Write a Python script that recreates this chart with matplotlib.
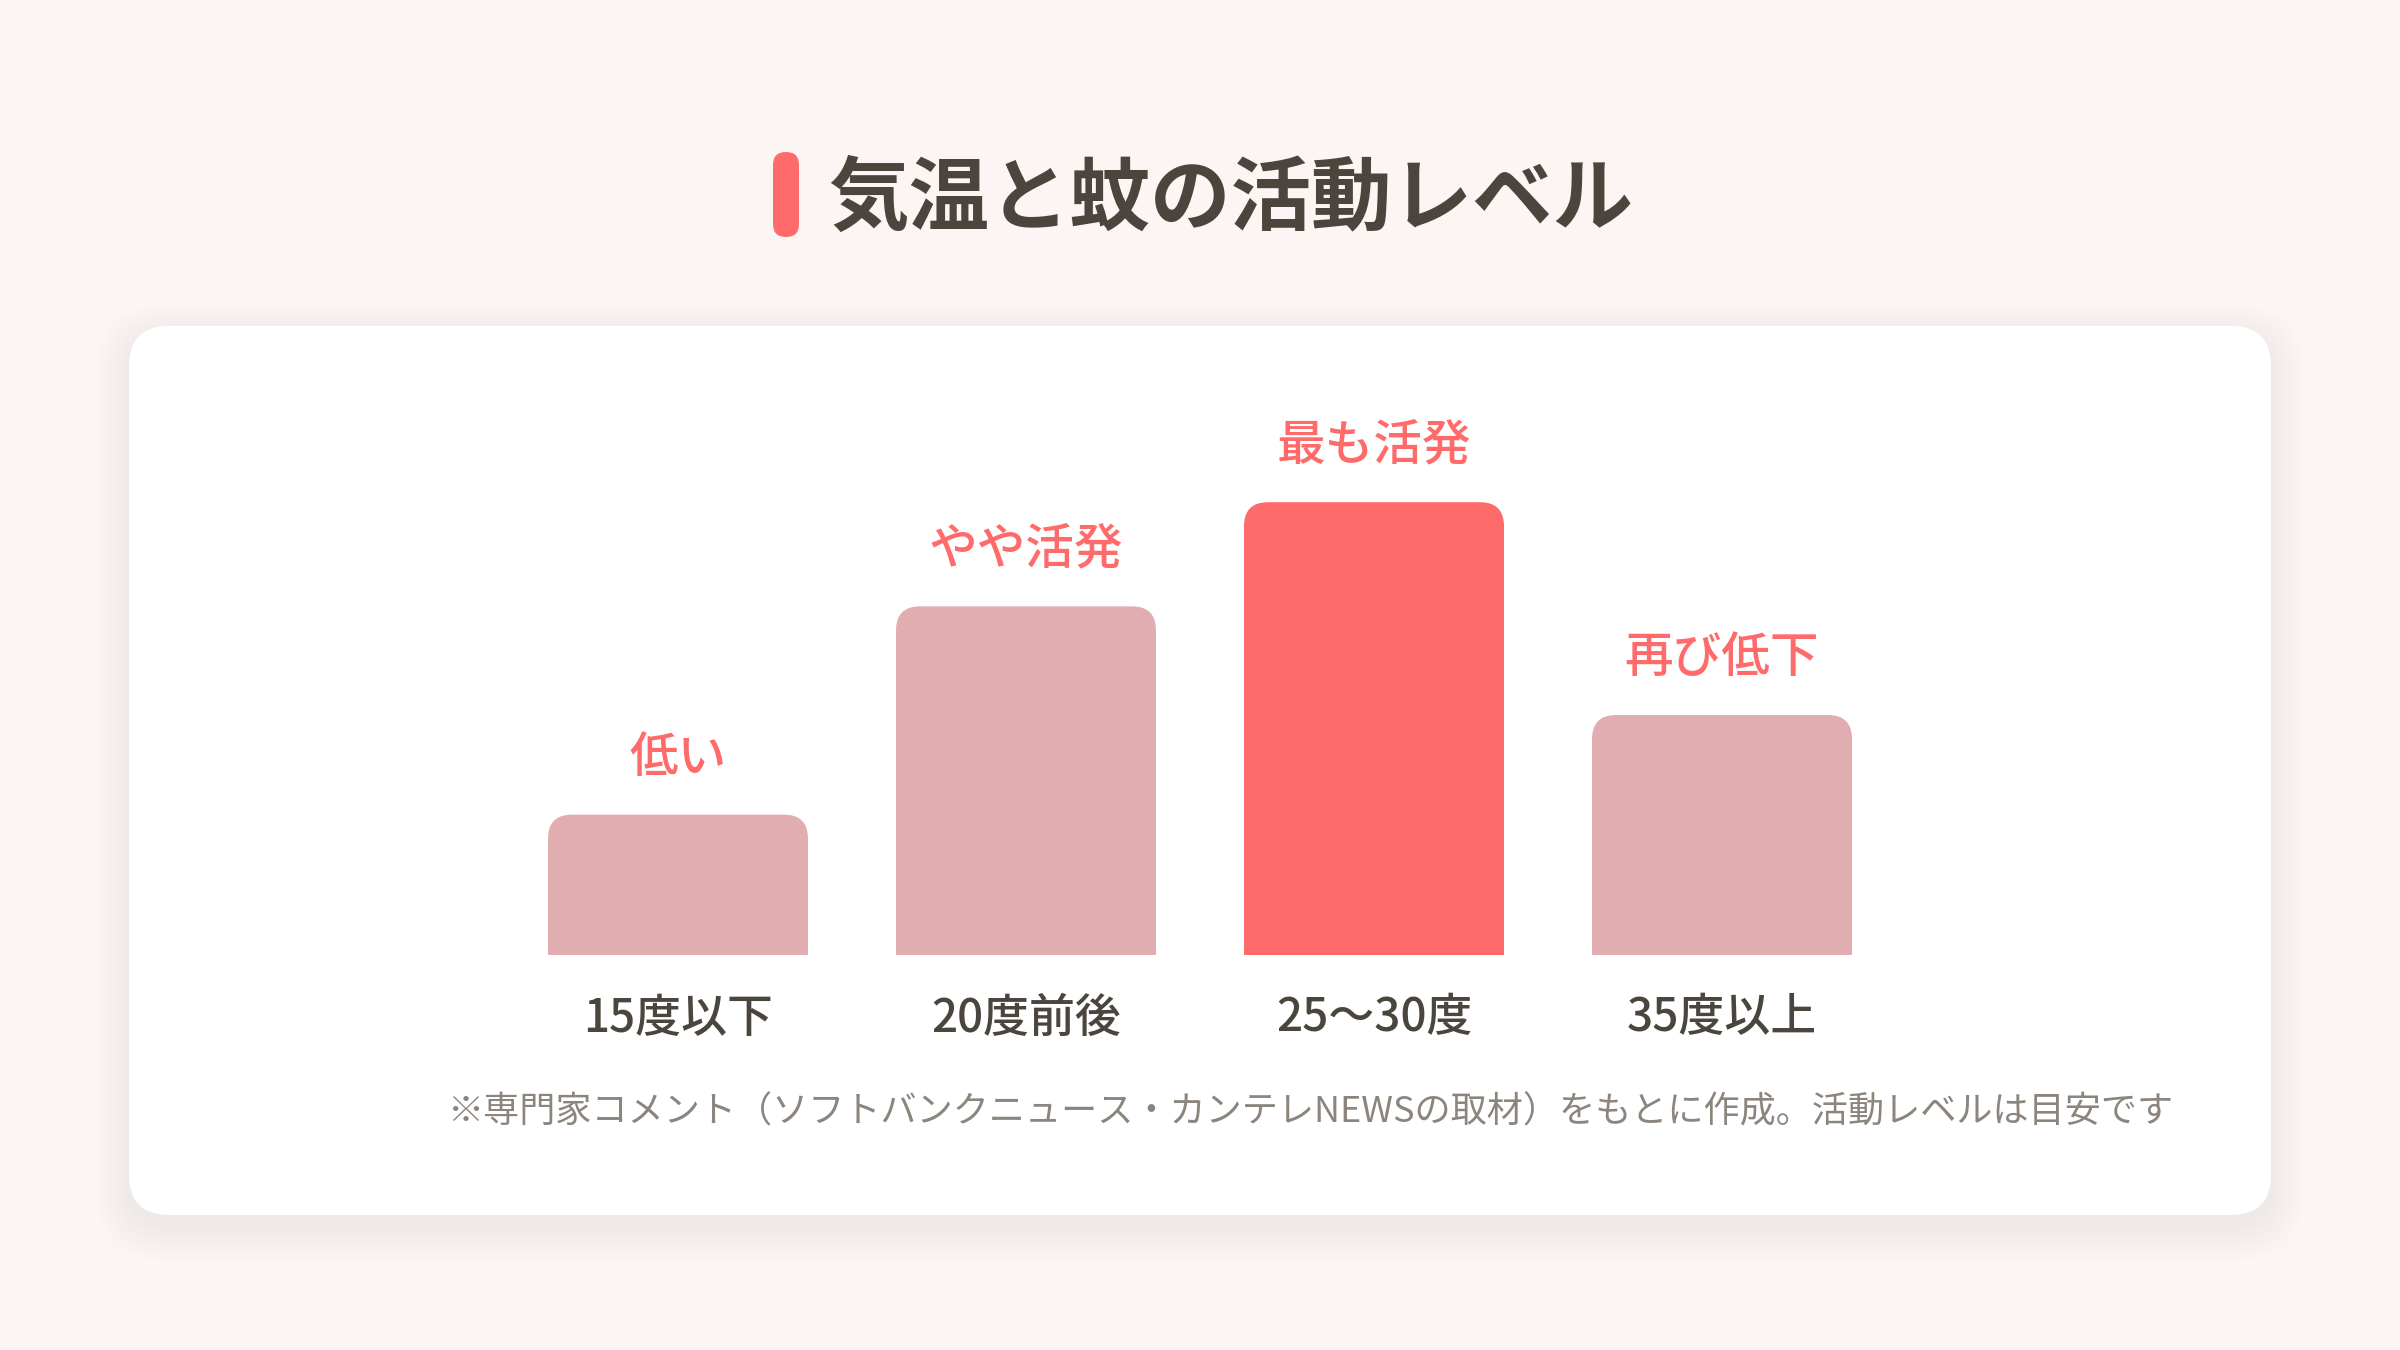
import matplotlib.pyplot as plt
from matplotlib.patches import FancyBboxPatch

plt.rcParams['font.family'] = ['Noto Sans CJK JP', 'DejaVu Sans']

title = "気温と蚊の活動レベル"
categories = ["15度以下", "20度前後", "25〜30度", "35度以上"]
activity = [31, 77, 100, 53]
level_labels = ["低い", "やや活発", "最も活発", "再び低下"]
highlight = [False, False, True, False]
note = "※専門家コメント（ソフトバンクニュース・カンテレNEWSの取材）をもとに作成。活動レベルは目安です"

BG = "#fbf5f4"
RED = "#ff6b6b"
PINK = "#e2adb0"
DARK = "#4a453d"
GRAY = "#8c857d"

W, H = 2400, 1350
fig = plt.figure(figsize=(24, 13.5), dpi=100)
fig.patch.set_facecolor(BG)

# background layer in pixel coords (y down)
bg = fig.add_axes([0, 0, 1, 1])
bg.set_xlim(0, W)
bg.set_ylim(H, 0)
bg.axis("off")

# card shadow + card
cx0, cy0, cx1, cy1 = 129, 326, 2271, 1215
for i in range(12):
    g = 2 + i * 3
    bg.add_patch(FancyBboxPatch((cx0 - g, cy0 - g + 12), cx1 - cx0 + 2 * g, cy1 - cy0 + 2 * g,
                                boxstyle=f"round,pad=0,rounding_size={40 + g}",
                                fc="#a08c8c", ec="none", alpha=0.007, zorder=1))
bg.add_patch(FancyBboxPatch((cx0, cy0), cx1 - cx0, cy1 - cy0,
                            boxstyle="round,pad=0,rounding_size=40",
                            fc="white", ec="none", zorder=2))

# title with pill marker
bg.add_patch(FancyBboxPatch((773, 152), 26, 85, boxstyle="round,pad=0,rounding_size=13",
                            fc=RED, ec="none", zorder=3))
bg.text(828, 200, title, fontsize=58, fontweight="bold", color=DARK,
        ha="left", va="center", zorder=3)

# footnote
bg.text(2173, 1113, note, fontsize=26, color=GRAY, ha="right", va="center", zorder=3)

# chart axes: bars centred at 677..1722 px, baseline at 955 px
slot = 348
ax_left = 1200 - 2 * slot
ax_w = 4 * slot
base_y = 955
ax_h = 566
ax = fig.add_axes([ax_left / W, (H - base_y) / H, ax_w / W, ax_h / H])
ax.set_xlim(-0.5, len(categories) - 0.5)
ax.set_ylim(0, 125)
ax.axis("off")
ax.patch.set_alpha(0)

bar_w = 260 / slot
r_px = 24
x_per_px = (len(categories)) / ax_w
y_per_px = 125 / ax_h
r_x = r_px * x_per_px
aspect = y_per_px / x_per_px

for i, (v, lab, cat, hl) in enumerate(zip(activity, level_labels, categories, highlight)):
    color = RED if hl else PINK
    p = FancyBboxPatch((i - bar_w / 2, -r_px * y_per_px), bar_w, v + r_px * y_per_px,
                       boxstyle=f"round,pad=0,rounding_size={r_x}",
                       mutation_aspect=aspect, fc=color, ec="none",
                       clip_on=True, zorder=3)
    ax.add_patch(p)
    p.set_clip_path(ax.patch)
    ax.annotate(lab, (i, v), xytext=(0, 57 * 0.72), textcoords="offset points",
                ha="center", va="center", fontsize=35, fontweight="medium",
                color=RED, zorder=4)
    ax.annotate(cat, (i, 0), xytext=(0, -63 * 0.72), textcoords="offset points",
                ha="center", va="center", fontsize=33, fontweight="medium",
                color=DARK, annotation_clip=False, zorder=4)

fig.savefig("out.png", dpi=100, facecolor=BG)
